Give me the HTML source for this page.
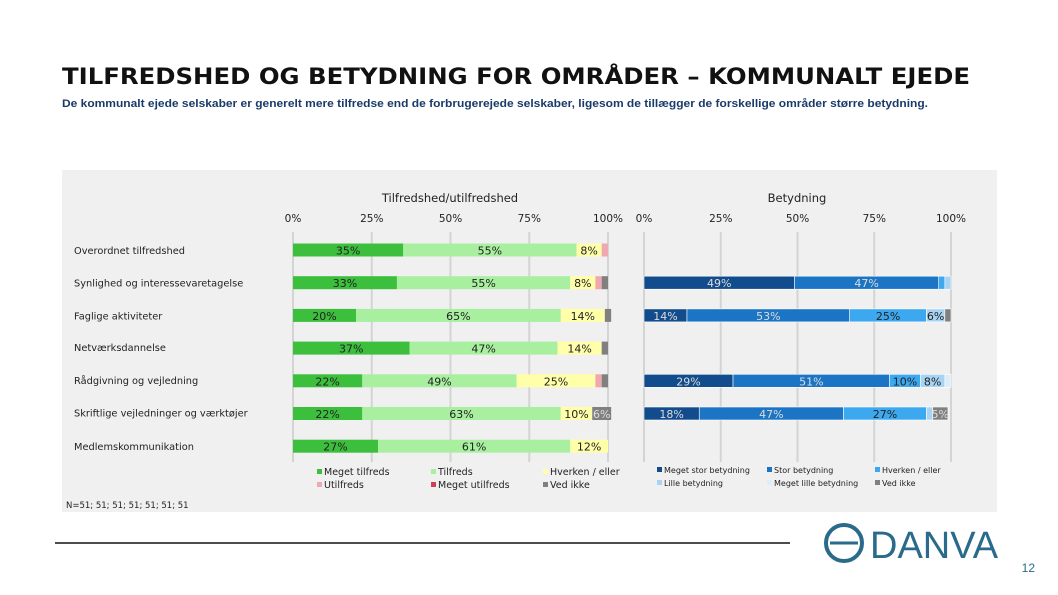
<!DOCTYPE html>
<html><head><meta charset="utf-8"><style>
body{margin:0;width:1058px;height:595px;background:#fff;font-family:"Liberation Sans",sans-serif;position:relative;overflow:hidden}
</style></head><body>
<svg width="1058" height="595" style="position:absolute;left:0;top:0">
<text x="62" y="84" font-size="22" font-weight="bold" fill="#111" font-family="DejaVu Sans, sans-serif" textLength="908" lengthAdjust="spacingAndGlyphs">TILFREDSHED OG BETYDNING FOR OMRÅDER – KOMMUNALT EJEDE</text>
<text x="62" y="107" font-size="11" font-weight="bold" fill="#1a3a6a" font-family="Liberation Sans, sans-serif" textLength="866" lengthAdjust="spacingAndGlyphs">De kommunalt ejede selskaber er generelt mere tilfredse end de forbrugerejede selskaber, ligesom de tillægger de forskellige områder større betydning.</text>
<rect x="62" y="170" width="935" height="342" fill="#f0f0f0"/>
<g id="g" font-family="DejaVu Sans, sans-serif"></g>
<line x1="55" y1="543" x2="790" y2="543" stroke="#111" stroke-width="1.5"/>
<g>
<circle cx="844" cy="543" r="18" fill="none" stroke="#2a6a8a" stroke-width="4"/>
<line x1="830" y1="543" x2="858" y2="543" stroke="#2a6a8a" stroke-width="3"/>
<text x="870" y="558" font-size="38" fill="#2a6a8a" font-family="Liberation Sans, sans-serif">DANVA</text>
</g>
<text x="1035" y="572" font-size="12" fill="#2a6a8a" text-anchor="end">12</text>
</svg>
<script>
const rowLabels=["Overordnet tilfredshed","Synlighed og interessevaretagelse","Faglige aktiviteter","Netværksdannelse","Rådgivning og vejledning","Skriftlige vejledninger og værktøjer","Medlemskommunikation"];
const satMegetTilfreds=[35,33,20,37,22,22,27];
const satTilfreds=[55,55,65,47,49,63,61];
const satHverken=[8,8,14,14,25,10,12];
const satUtilfreds=[2,2,0,0,2,0,0];
const satMegetUtilfreds=[0,0,0,0,0,0,0];
const satVedIkke=[0,2,2,2,2,6,0];
const impMegetStor=[null,49,14,null,29,18,null];
const impStor=[null,47,53,null,51,47,null];
const impHverken=[null,2,25,null,10,27,null];
const impLille=[null,2,6,null,8,2,null];
const impMegetLille=[null,0,0,null,2,0,null];
const impVedIkke=[null,0,2,null,0,5,null];
const ticks=["0%","25%","50%","75%","100%"];
const NS="http://www.w3.org/2000/svg";
const g=document.getElementById('g');
function el(t,a,p){const e=document.createElementNS(NS,t);for(const k in a)e.setAttribute(k,a[k]);(p||g).appendChild(e);return e;}
const rowY=i=>250+i*32.7;
function chart(x0,x1,series,colors,txtCols,title,titleX,key){
  const sx=v=>x0+(x1-x0)*v/100;
  ticks.forEach((tk,i)=>{const v=i*25;
    const l=el('line',{x1:sx(v),x2:sx(v),y1:232,y2:462,stroke:'#d4d4d4','stroke-width':2});
    
    const t=el('text',{x:sx(v),y:222,'font-size':10.5,'text-anchor':'middle',fill:'#222'});t.textContent=tk;
    });
  const tt=el('text',{x:titleX,y:202,'font-size':11.5,'text-anchor':'middle',fill:'#222'});tt.textContent=title;
  
  for(let r=0;r<7;r++){
    if(series[0][r]==null)continue;
    let acc=0;const y=rowY(r);
    series.forEach((s,si)=>{const v=s[r];if(!v)return;
      const rc=el('rect',{x:sx(acc),y:y-6.5,width:sx(acc+v)-sx(acc),height:13,fill:colors[si],stroke:key==='imp'?'#fff':'none','stroke-width':0.6});
      
      if(v>=5){const t=el('text',{x:(sx(acc)+sx(acc+v))/2,y:y+4.5,'font-size':11,'text-anchor':'middle',fill:txtCols[si]});t.textContent=v+'%';
        }
      acc+=v;});
  }
}
chart(293,608,[satMegetTilfreds,satTilfreds,satHverken,satUtilfreds,satMegetUtilfreds,satVedIkke],
 ['#3cbf3c','#a8f0a0','#ffffaa','#f0a8b0','#d04050','#808080'],['#222','#222','#222','#222','#222','#ddd'],'Tilfredshed/utilfredshed',450,'sat');
chart(644,951,[impMegetStor,impStor,impHverken,impLille,impMegetLille,impVedIkke],
 ['#124c8c','#1c74c4','#3ca8f0','#a8d4f4','#dceef8','#808080'],['#ddd','#ddd','#222','#222','#222','#ddd'],'Betydning',797,'imp');
rowLabels.forEach((l,i)=>{const t=el('text',{x:74,y:rowY(i)+(i>=3&&i<=5?-1:0)+4,'font-size':9.8,fill:'#222'});t.textContent=l;
 });
function legend(items,cols,xs,y0,fs){items.forEach((it,i)=>{const x=xs[i%3],y=y0+Math.floor(i/3)*13;
 const r=el('rect',{x:x,y:y-6,width:5,height:5,fill:cols[i]});
 const t=el('text',{x:x+7,y:y,'font-size':fs,fill:'#222'});t.textContent=it;});}
legend(['Meget tilfreds','Tilfreds','Hverken / eller','Utilfreds','Meget utilfreds','Ved ikke'],['#3cbf3c','#a8f0a0','#ffffaa','#f0a8b0','#d04050','#808080'],[317,431,543],475,9.5);
legend(['Meget stor betydning','Stor betydning','Hverken / eller','Lille betydning','Meget lille betydning','Ved ikke'],['#124c8c','#1c74c4','#3ca8f0','#a8d4f4','#dceef8','#808080'],[657,767,875],473,8);
const n=el('text',{x:66,y:508,'font-size':8.5,fill:'#222'});n.textContent='N=51; 51; 51; 51; 51; 51; 51';

</script>
</body></html>
